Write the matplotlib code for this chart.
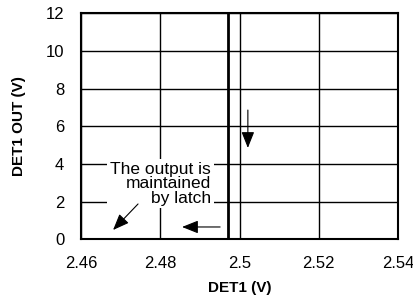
import matplotlib
matplotlib.use('Agg')
import matplotlib.pyplot as plt

plt.rcParams['font.family'] = ['Liberation Sans', 'DejaVu Sans']

# threshold line: DET1 OUT drops at about 2.497 V
det1_x = [2.497, 2.497]
det1_out = [0, 12]

x_ticks = [2.46, 2.48, 2.50, 2.52, 2.54]
x_labels = ['2.46', '2.48', '2.5', '2.52', '2.54']
y_ticks = [0, 2, 4, 6, 8, 10, 12]

fig = plt.figure(figsize=(4.13, 3.05), dpi=100)
ax = fig.add_axes([0.196, 0.215, 0.768, 0.742])

ax.plot(det1_x, det1_out, color='black', lw=2.0, zorder=3)

ax.set_xlim(2.46, 2.54)
ax.set_ylim(0, 12)
ax.set_xticks(x_ticks)
ax.set_xticklabels(x_labels)
ax.set_yticks(y_ticks)
ax.tick_params(axis='x', length=0, labelsize=12, pad=12)
ax.tick_params(axis='y', length=0, labelsize=12, pad=12)
ax.grid(True, color='black', lw=1)
for s in ax.spines.values():
    s.set_linewidth(1.5)

ax.set_xlabel('DET1 (V)', fontsize=11, fontweight='bold', labelpad=7)
ax.set_ylabel('DET1 OUT (V)', fontsize=11, fontweight='bold', labelpad=14)

ax.text(2.4928, 2.95, 'The output is\nmaintained\nby latch', ha='right', va='center',
        fontsize=12.5, linespacing=0.95, zorder=4,
        bbox=dict(facecolor='white', edgecolor='none', pad=2))

arrow = dict(arrowstyle='-|>,head_length=0.55,head_width=0.22', color='black',
             lw=0.8, mutation_scale=18, shrinkA=0, shrinkB=0)
ax.annotate('', xy=(2.4681, 0.5), xytext=(2.4744, 1.88), arrowprops=arrow, zorder=5)
ax.annotate('', xy=(2.4855, 0.66), xytext=(2.4951, 0.66), arrowprops=arrow, zorder=5)
ax.annotate('', xy=(2.5021, 4.85), xytext=(2.5021, 6.86), arrowprops=arrow, zorder=5)

fig.savefig('out.png', dpi=100)
